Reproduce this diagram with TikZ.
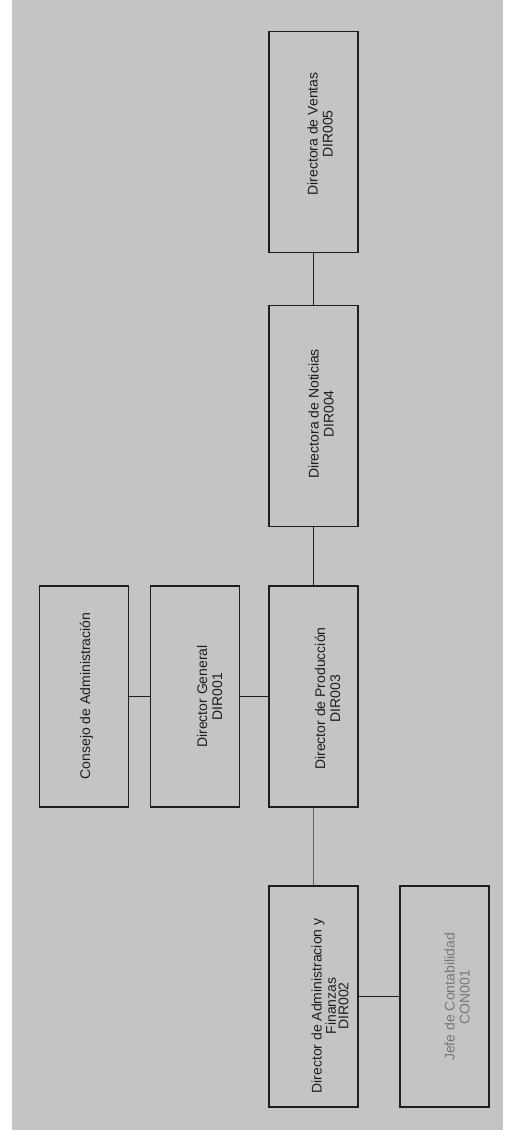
\documentclass[tikz,border=0pt]{standalone}
\usepackage{fontspec}
\setmainfont{Liberation Sans}
\definecolor{paper}{RGB}{196,196,196}
\definecolor{ink}{RGB}{30,30,30}
\begin{document}
\begin{tikzpicture}[x=1pt,y=1pt,
  box/.style={draw=ink, line width=1.3pt, minimum width=89pt, minimum height=221pt, inner sep=0pt},
  lbl/.style={rotate=90, align=center, text=ink, inner sep=0pt, font=\fontsize{14}{15}\selectfont},
  link/.style={draw=ink, line width=0.8pt}]
\useasboundingbox (0,0) rectangle (509,1138);
\fill[paper] (12,8) rectangle (503,1138);
% boxes (y = 1138 - pixel row)
\node[box] (ven) at (313.5,996) {};
\node[box] (not) at (313.5,722) {};
\node[box] (con) at (84,441.5) {};
\node[box] (gen) at (195,441.5) {};
\node[box] (pro) at (313.5,441.5) {};
\node[box] (adm) at (313.5,141.5) {};
\node[box] (cnt) at (444.5,141.5) {};
% labels
\node[lbl] (tven) at (320,1004) {Directora de Ventas\\DIR005};
\node[lbl] (tnot) at (321,724) {Directora de Noticias\\DIR004};
\node[lbl] (tcon) at (86.5,442) {Consejo de Administración};
\node[lbl] (tgen) at (209.5,441.5) {Director General\\DIR001};
\node[lbl] (tpro) at (327.5,439.5) {Director de Producción\\DIR003};
\node[lbl, font=\fontsize{14}{12.5}\selectfont] (tadm) at (330,132) {Director de Administracion y\\Finanzas\\DIR002};
\node[lbl, text=ink!60] (tcnt) at (457,141) {Jefe de Contabilidad\\CON001};
% connectors
\draw[link] (ven) -- (not);
\draw[link] (not) -- (pro);
\draw[link, draw=ink!70] (pro) -- (adm);
\draw[link] (con) -- (gen);
\draw[link] (gen) -- (pro);
\draw[link] (adm) -- (cnt);
\end{tikzpicture}
\end{document}
